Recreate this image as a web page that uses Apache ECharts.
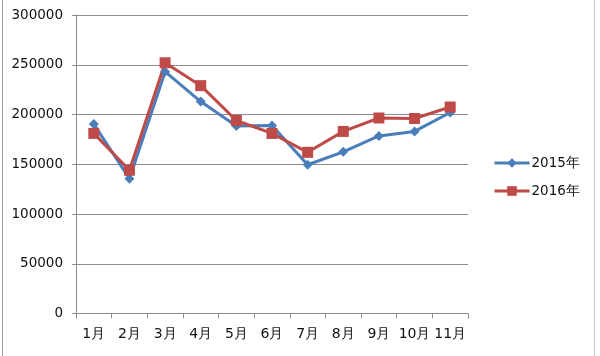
<!DOCTYPE html>
<html><head><meta charset="utf-8">
<script src="https://cdn.jsdelivr.net/npm/echarts@6/dist/echarts.min.js"></script>
<style>html,body{margin:0;padding:0;background:#fff}#c{width:600px;height:356px}</style>
</head><body><div id="c"></div>
<script>
const categories = ['1月','2月','3月','4月','5月','6月','7月','8月','9月','10月','11月'];
const s2015 = [190500, 135500, 243000, 213000, 188500, 189000, 149500, 162500, 178500, 183000, 202000];
const s2016 = [181000, 144000, 252000, 229000, 194000, 181000, 162000, 183000, 196500, 196000, 207500];
const yTicks = [0, 50000, 100000, 150000, 200000, 250000, 300000];

const chart = echarts.init(document.getElementById('c'));
const font = 'DejaVu Sans, sans-serif';
chart.setOption({
  animation: false,
  backgroundColor: '#fff',
  graphic: [
    {type:'line', shape:{x1:2.5,y1:0,x2:2.5,y2:356}, style:{stroke:'#a0a0a0',lineWidth:1}},
    {type:'line', shape:{x1:594.5,y1:0,x2:594.5,y2:356}, style:{stroke:'#c8c8c8',lineWidth:1}}
  ],
  grid: {left: 76, right: 132, top: 15, bottom: 42.5, containLabel: false},
  legend: {
    orient: 'vertical', left: 493, top: 156, itemGap: 14, padding: 0,
    itemWidth: 35, itemHeight: 12,
    lineStyle: {width: 3},
    textStyle: {fontFamily: font, fontSize: 13.5, color: '#111', padding: [0,0,0,-3]},
    data: ['2015年','2016年']
  },
  xAxis: {
    type: 'category', data: categories, boundaryGap: true,
    axisLine: {lineStyle: {color: '#8c8c8c', width: 1}},
    axisTick: {show: true, length: 5, lineStyle: {color: '#8c8c8c'}},
    axisLabel: {fontFamily: font, fontSize: 14, color: '#111', margin: 14, interval: 0}
  },
  yAxis: {
    type: 'value', min: yTicks[0], max: yTicks[yTicks.length-1], interval: yTicks[1]-yTicks[0],
    axisLine: {show: true, lineStyle: {color: '#8c8c8c', width: 1}},
    axisTick: {show: true, length: 4, lineStyle: {color: '#8c8c8c'}},
    splitLine: {lineStyle: {color: '#8c8c8c', width: 1}},
    axisLabel: {fontFamily: font, fontSize: 13.5, color: '#111', margin: 13, formatter: v => String(v)}
  },
  series: [
    {name: '2015年', type: 'line', data: s2015, symbol: 'diamond', symbolSize: 10,
     lineStyle: {color: '#4a7ebb', width: 3}, itemStyle: {color: '#4a7ebb'}},
    {name: '2016年', type: 'line', data: s2016, symbol: 'rect', symbolSize: 11,
     lineStyle: {color: '#be4b48', width: 3}, itemStyle: {color: '#be4b48'}}
  ]
});
</script></body></html>
